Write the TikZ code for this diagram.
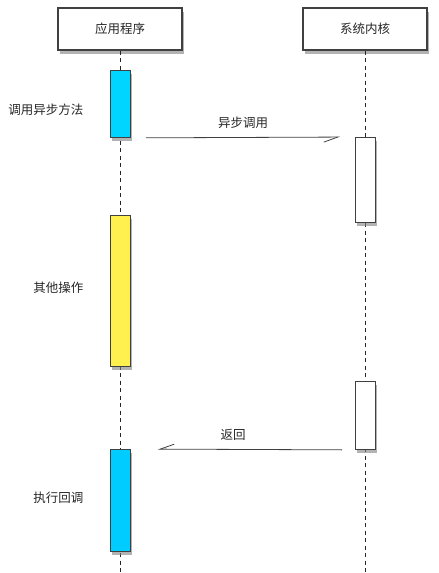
\documentclass[tikz,border=0pt]{standalone}
\usepackage{fontspec}
\setmainfont{Noto Sans CJK SC}
\usepackage{tikz}
\usetikzlibrary{arrows.meta, positioning, shadows}
\definecolor{callblue}{RGB}{0,213,255}
\definecolor{cbblue}{RGB}{0,204,255}
\definecolor{otheryellow}{RGB}{255,240,80}

\begin{document}
\begin{tikzpicture}[x=1pt, y=-1pt,
  sdw/.style={drop shadow={shadow xshift=1.5pt, shadow yshift=-3.5pt, fill=black!50, opacity=0.6}},
  actorbox/.style={draw=black!75, line width=1.1pt, fill=white, minimum width=124pt, minimum height=42pt, inner sep=0pt, sdw},
  actbar/.style={draw=black!75, line width=0.9pt, minimum width=20pt, inner sep=0pt, anchor=north, sdw},
  lifeline/.style={black!85, line width=0.7pt, dash pattern=on 4pt off 3.5pt},
  msgline/.style={black!75, line width=0.8pt, -{Straight Barb[right, length=14pt, width=10pt]}},
  lbl/.style={text=black!85, font=\fontsize{12.5}{15}\selectfont}
]
\useasboundingbox (0,0) rectangle (439,573);
% Participants
\node[actorbox, lbl] (app) at (120,29) {应用程序};
\node[actorbox, lbl] (kernel) at (365,29) {系统内核};
% Lifelines
\coordinate (append) at (120,573);
\coordinate (kernelend) at (365,573);
\draw[lifeline] (app.south) -- (append);
\draw[lifeline] (kernel.south) -- (kernelend);
% Activation bars
\node[actbar, fill=callblue, minimum height=67pt] (call) at (120.5,70) {};
\node[actbar, fill=white, minimum height=85pt] (kwork) at (365.5,137) {};
\node[actbar, fill=otheryellow, minimum height=151pt] (other) at (120,215) {};
\node[actbar, fill=white, minimum height=68pt] (kdone) at (365.5,381) {};
\node[actbar, fill=cbblue, minimum height=102pt] (cb) at (120.5,449) {};
% Messages
\draw[msgline, shorten <=15pt, shorten >=15pt] (call.south east) -- node[lbl, above=5pt] {异步调用} (kwork.north west);
\draw[msgline, shorten <=13pt, shorten >=27pt] (kdone.south west) -- node[lbl, above=5pt, xshift=-10pt] {返回} (cb.north east);
% Side notes
\node[lbl, anchor=east] (callnote) at (87,110) {调用异步方法};
\node[lbl, anchor=east] (othernote) at (87,288) {其他操作};
\node[lbl, anchor=east] (cbnote) at (87,498) {执行回调};
\end{tikzpicture}
\end{document}
